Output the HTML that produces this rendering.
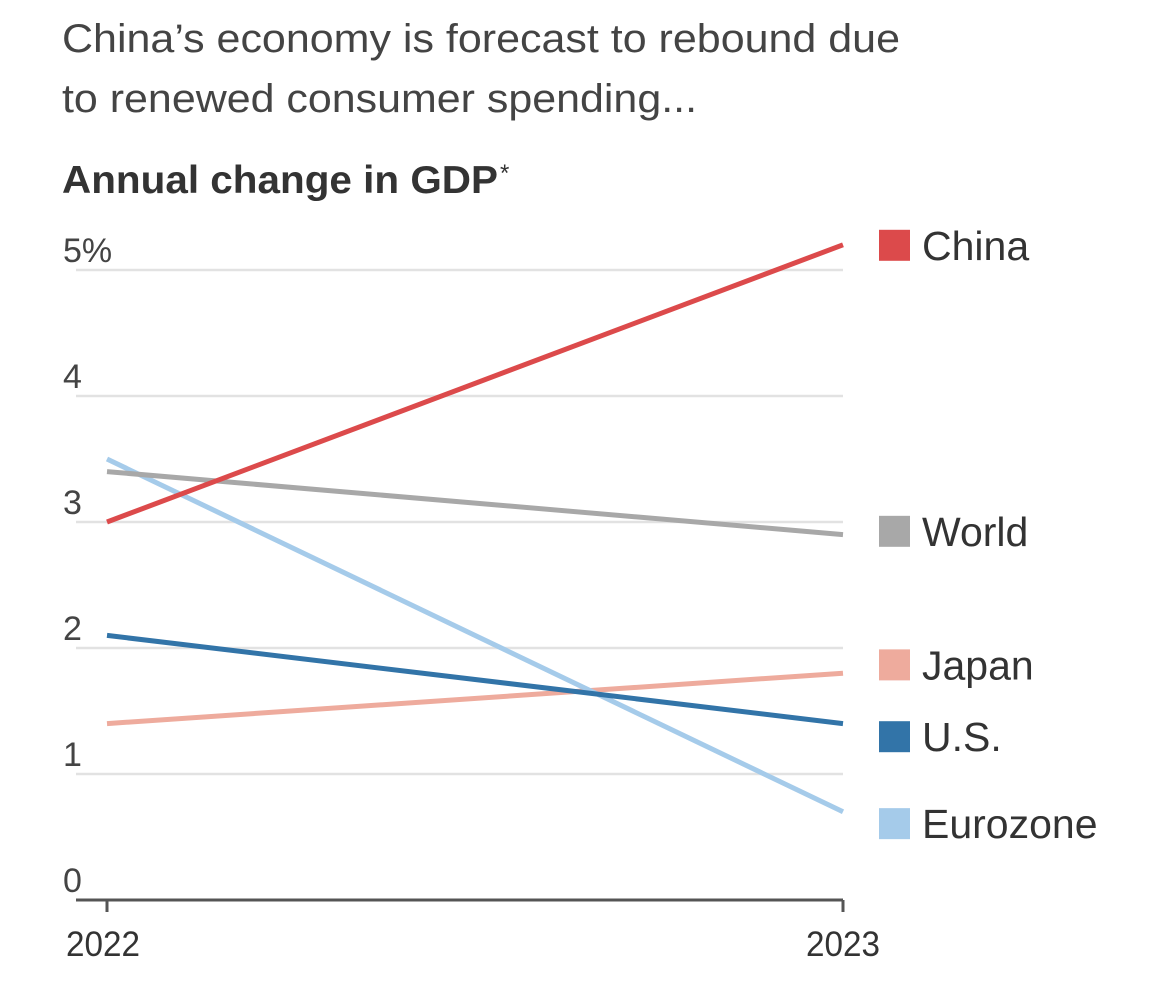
<!DOCTYPE html>
<html><head><meta charset="utf-8"><style>
body{margin:0;background:#fff;width:1170px;height:991px;overflow:hidden;font-family:"Liberation Sans",sans-serif}
</style></head><body>
<svg width="1170" height="991" style="position:absolute;left:0;top:0">
<text x="62" y="52" font-size="40" fill="#444" textLength="838" lengthAdjust="spacingAndGlyphs">China’s economy is forecast to rebound due</text>
<text x="62" y="112" font-size="40" fill="#444" textLength="635" lengthAdjust="spacingAndGlyphs">to renewed consumer spending...</text>
<text x="62" y="193" font-size="39" font-weight="bold" fill="#333" textLength="436" lengthAdjust="spacingAndGlyphs">Annual change in GDP</text>
<text x="500" y="181" font-size="24" fill="#333">*</text>
<g id="grid"></g><g id="lines"></g><g id="legend"></g>
</svg>
<script>
const years=["2022","2023"];
const series=["China","World","Japan","U.S.","Eurozone"];
const china=[3.0,5.2];
const world=[3.4,2.9];
const japan=[1.4,1.8];
const us=[2.1,1.4];
const eurozone=[3.5,0.7];
const yTicks=[0,1,2,3,4,5];
const yTickLabels=["0","1","2","3","4","5%"];
const legendY=[5.2,2.93,1.87,1.3,0.61];
const NS="http://www.w3.org/2000/svg";
const x=i=>107+i*(843-107);
const y=v=>900-v*126;
function mk(tag,at,parent){const e=document.createElementNS(NS,tag);for(const k in at)e.setAttribute(k,at[k]);parent.appendChild(e);return e;}
const grid=document.getElementById('grid');
yTicks.forEach((t,i)=>{
  const l=mk('line',{x1:76,x2:843,y1:y(t),y2:y(t),stroke:t===0?'#555':'#e2e2e2','stroke-width':t===0?3:2.5},grid);
  
  
  const tx=mk('text',{x:63,y:y(t)-8,'font-size':34,fill:'#444'},grid);tx.textContent=yTickLabels[i];
  
  
});
years.forEach((yr,i)=>{
  const l=mk('line',{x1:x(i),x2:x(i),y1:900,y2:912,stroke:'#555','stroke-width':3},grid);
  
  
  const t=mk('text',{x:x(i)+(i?-37:-41),y:956,'font-size':35,fill:'#333',textLength:74,lengthAdjust:'spacingAndGlyphs'},grid);t.textContent=yr;
  
  
});
const data=[china,world,japan,us,eurozone];
const colors=["#dc4a4b","#a8a8a8","#eeab9d","#3274a8","#a5cbea"];
const order=[2,4,1,3,0];
const lg=document.getElementById('lines');
order.forEach(s=>{
  const l=mk('line',{x1:x(0),y1:y(data[s][0]),x2:x(1),y2:y(data[s][1]),stroke:colors[s],'stroke-width':5},lg);
  
  
});
const leg=document.getElementById('legend');
series.forEach((s,i)=>{
  const cy=y(legendY[i]);
  const r=mk('rect',{x:879,y:cy-15,width:31,height:31,fill:colors[i]},leg);
  
  
  const t=mk('text',{x:922,y:cy+15,'font-size':41,fill:'#333'},leg);t.textContent=s;
  
  
});
</script>
</body></html>
